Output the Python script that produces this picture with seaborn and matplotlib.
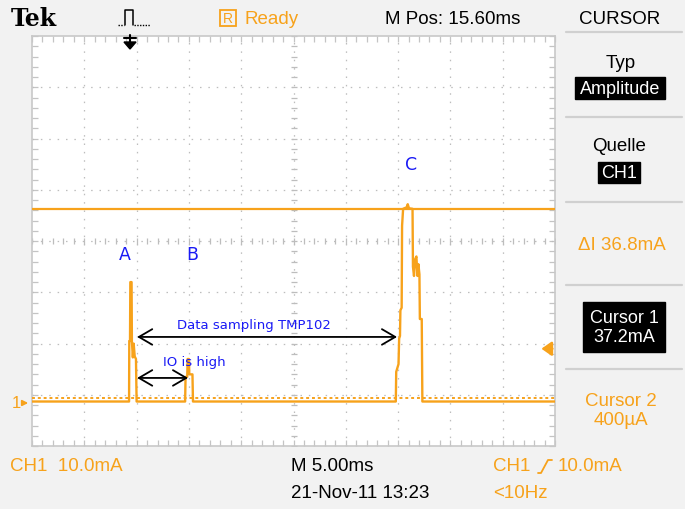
import matplotlib
matplotlib.use("Agg")
import matplotlib.pyplot as plt
import matplotlib.patches as mpatches
from matplotlib.lines import Line2D
from matplotlib.ticker import FixedLocator
import pandas as pd
import seaborn as sns

# ---- scope settings ----
ma_per_div = 10.0          # vertical scale, mA/div
ms_per_div = 5.0           # horizontal scale, ms/div
n_hdiv, n_vdiv = 10, 8
t_left = -9.42             # left screen edge, ms relative to trigger
i_bottom = -8.98           # bottom screen edge, mA
cursor1_ma = 37.2
cursor2_ma = 0.4
trigger_level_ma = 10.0

# ---- CH1 current trace (ms, mA) ----
time_ms = [-9.42, -0.14, -0.12, -0.05, -0.02, 0.10, 0.13, 0.22, 0.30, 0.40, 0.52, 0.58,
           5.22, 5.26, 5.42, 5.46, 5.58, 5.62, 5.92, 5.97,
           25.36, 25.40, 25.62, 25.68, 25.76, 25.80, 25.92, 25.96, 26.06, 26.40, 26.50,
           26.62, 26.96, 27.00, 27.10, 27.22, 27.33, 27.43, 27.52, 27.62, 27.66, 27.84,
           27.90, 40.58]
current_ma = [-0.3, -0.3, 11.5, 11.5, 23.0, 23.0, 11.5, 8.3, 11.0, 8.5, 8.0, -0.3,
              -0.3, 4.5, 4.5, 8.0, 8.0, 5.0, 5.0, -0.3,
              -0.3, 5.5, 7.0, 12.0, 12.5, 17.5, 18.0, 34.0, 37.3, 37.6, 38.2,
              37.4, 37.3, 26.0, 24.2, 27.5, 28.0, 24.2, 26.5, 24.5, 15.8, 15.8,
              -0.3, -0.3]

# ---- annotations ----
event_labels = ["A", "B", "C"]
event_label_t = [-0.53, 5.88, 26.8]
event_label_i = [28.5, 28.5, 46.0]
span_texts = ["Data sampling TMP102", "IO is high"]
span_start_t = [0.63, 0.63]
span_end_t = [25.48, 5.50]
span_arrow_i = [12.3, 4.3]
span_text_t = [11.8, 6.1]
span_text_i = [14.7, 7.6]

# ---- readouts ----
top_readouts = ["Ready", "M Pos: 15.60ms", "CURSOR"]
bottom_readouts = ["CH1  10.0mA", "M 5.00ms", "CH1", "10.0mA", "21-Nov-11 13:23", "<10Hz"]
menu_items = ["Typ", "Amplitude", "Quelle", "CH1", "\u0394I 36.8mA",
              "Cursor 1\n37.2mA", "Cursor 2\n400\u00b5A"]

ORANGE = "#F7A21B"
BLUE = "#1A1AF5"
GRID = "#BDBDBD"
BG = "#F2F2F2"
FS = 13.5

sns.set_theme(style="white")
plt.rcParams["font.family"] = ["Liberation Sans", "DejaVu Sans"]

W, H = 685, 510
fig = plt.figure(figsize=(W / 100, H / 100), dpi=100, facecolor=BG)


def fx(x):
    return x / W


def fy(y):
    return 1 - y / H


def fig_line(xs, ys, **kw):
    fig.add_artist(Line2D([fx(v) for v in xs], [fy(v) for v in ys],
                          transform=fig.transFigure, **kw))


ax = fig.add_axes([fx(32), fy(447), (555 - 32) / W, (447 - 37) / H])
ax.set_facecolor("white")
t_right = t_left + n_hdiv * ms_per_div
i_top = i_bottom + n_vdiv * ma_per_div
ax.set_xlim(t_left, t_right)
ax.set_ylim(i_bottom, i_top)

# graticule
xmaj = [t_left + k * ms_per_div for k in range(n_hdiv + 1)]
ymaj = [i_bottom + k * ma_per_div for k in range(n_vdiv + 1)]
xmin = [t_left + k * ms_per_div / 5 for k in range(n_hdiv * 5 + 1)]
ymin = [i_bottom + k * ma_per_div / 5 for k in range(n_vdiv * 5 + 1)]
for xv in xmaj[1:-1]:
    ax.axvline(xv, color=GRID, lw=0.9, ls=(0, (1.2, 5.5)), zorder=1)
for yv in ymaj[1:-1]:
    ax.axhline(yv, color=GRID, lw=0.9, ls=(0, (1.2, 5.5)), zorder=1)
xc = t_left + n_hdiv / 2 * ms_per_div
yc = i_bottom + n_vdiv / 2 * ma_per_div
ax.plot(xmin, [yc] * len(xmin), ls="none", marker="|", ms=4, mew=0.9, color=GRID, zorder=1)
ax.plot([xc] * len(ymin), ymin, ls="none", marker="_", ms=4, mew=0.9, color=GRID, zorder=1)
ax.xaxis.set_major_locator(FixedLocator(xmin))
ax.yaxis.set_major_locator(FixedLocator(ymin))
ax.tick_params(direction="in", length=4, width=0.9, color="#C4C4C4",
               top=True, right=True, bottom=True, left=True,
               labelbottom=False, labelleft=False)
for s in ax.spines.values():
    s.set_color("#C8C8C8")
    s.set_linewidth(1.2)

# cursors
ax.axhline(cursor1_ma, color=ORANGE, lw=1.6, zorder=3)
ax.axhline(cursor2_ma, color=ORANGE, lw=1.4, ls=(0, (1.5, 1.5)), zorder=3)

# trace
trace = pd.DataFrame({"t": time_ms, "i": current_ma})
sns.lineplot(data=trace, x="t", y="i", ax=ax, color=ORANGE, lw=1.7,
             zorder=4, estimator=None, sort=False)
ax.set_xlabel("")
ax.set_ylabel("")

# trigger level marker
ax.annotate("", xy=(t_right - 1.3, trigger_level_ma), xytext=(t_right - 0.25, trigger_level_ma),
            arrowprops=dict(arrowstyle="-|>,head_length=0.5,head_width=0.35", color=ORANGE,
                            lw=1.8, mutation_scale=12, shrinkA=0, shrinkB=0),
            zorder=5, annotation_clip=False)

# annotations
for lab, tx, iy in zip(event_labels, event_label_t, event_label_i):
    ax.text(tx, iy, lab, color=BLUE, fontsize=12.5, ha="center", va="center",
            family=["DejaVu Sans"], zorder=6)
for txt, t0, t1, ia, tt, it in zip(span_texts, span_start_t, span_end_t, span_arrow_i,
                                   span_text_t, span_text_i):
    ax.annotate("", xy=(t0, ia), xytext=(t1, ia),
                arrowprops=dict(arrowstyle="<->,head_length=0.6,head_width=0.35",
                                color="black", lw=1.3, mutation_scale=16,
                                shrinkA=0, shrinkB=0),
                zorder=6)
    ax.text(tt, it, txt, color=BLUE, fontsize=9.5, ha="center", va="center",
            family=["DejaVu Sans"], zorder=6)

# ground marker
fig.text(fx(16), fy(404), "1", color=ORANGE, fontsize=12, ha="center", va="center")
fig.add_artist(mpatches.FancyArrowPatch((fx(21), fy(404)), (fx(31), fy(404)),
                                        transform=fig.transFigure, arrowstyle="-|>",
                                        mutation_scale=8, color=ORANGE, lw=1.3))

# trigger position marker
fig_line([130, 130], [36, 44], color="black", lw=1.5)
fig_line([124, 136], [39, 39], color="black", lw=1.5)
fig.add_artist(mpatches.Polygon([[fx(124), fy(43)], [fx(136), fy(43)], [fx(130), fy(50)]],
                                closed=True, transform=fig.transFigure, color="black"))

# header
fig.text(fx(11), fy(19), "Tek", fontsize=17, fontweight="bold", family=["DejaVu Serif"],
         ha="left", va="center", color="black")
fig_line([125, 125, 133, 133], [26, 11, 11, 26], color="black", lw=1.1)
fig_line([118, 124], [26, 26], color="black", lw=1.0, ls=(0, (1, 1)))
fig_line([134, 150], [26, 26], color="black", lw=1.0, ls=(0, (1, 1)))
fig.add_artist(mpatches.Rectangle((fx(220), fy(27)), 16 / W, 16 / H, transform=fig.transFigure,
                                  fill=False, edgecolor=ORANGE, lw=1.3))
fig.text(fx(228), fy(19), "R", color=ORANGE, fontsize=10, ha="center", va="center")
fig.text(fx(244), fy(19), top_readouts[0], color=ORANGE, fontsize=FS, ha="left", va="center")
fig.text(fx(385), fy(19), top_readouts[1], color="black", fontsize=FS, ha="left", va="center")
fig.text(fx(620), fy(19), top_readouts[2], color="black", fontsize=FS, ha="center", va="center")

# footer
fig.text(fx(10), fy(467), bottom_readouts[0], color=ORANGE, fontsize=FS, ha="left", va="center")
fig.text(fx(291), fy(467), bottom_readouts[1], color="black", fontsize=FS, ha="left", va="center")
fig.text(fx(493), fy(467), bottom_readouts[2], color=ORANGE, fontsize=FS, ha="left", va="center")
fig_line([538, 541, 548, 552], [474, 474, 461, 461], color=ORANGE, lw=1.3)
fig.text(fx(558), fy(467), bottom_readouts[3], color=ORANGE, fontsize=FS, ha="left", va="center")
fig.text(fx(291), fy(494), bottom_readouts[4], color="black", fontsize=FS, ha="left", va="center")
fig.text(fx(493), fy(494), bottom_readouts[5], color=ORANGE, fontsize=FS, ha="left", va="center")

# side menu
for yy in [33, 118, 203, 286, 370]:
    fig_line([566, 682], [yy, yy], color="#D0D0D0", lw=1.6)


def boxed(x, y, txt, w, h):
    fig.add_artist(mpatches.Rectangle((fx(x - w / 2), fy(y + h / 2)), w / W, h / H,
                                      transform=fig.transFigure, color="black"))
    fig.text(fx(x), fy(y), txt, color="white", fontsize=13, ha="center", va="center",
             linespacing=1.1)


fig.text(fx(621), fy(64), menu_items[0], color="black", fontsize=FS, ha="center", va="center")
boxed(620, 89, menu_items[1], 90, 22)
fig.text(fx(619), fy(147), menu_items[2], color="black", fontsize=FS, ha="center", va="center")
boxed(619, 173, menu_items[3], 42, 21)
fig.text(fx(622), fy(245), menu_items[4], color=ORANGE, fontsize=FS, ha="center", va="center")
boxed(624, 328, menu_items[5], 82, 50)
fig.text(fx(621), fy(411), menu_items[6], color=ORANGE, fontsize=FS, ha="center", va="center",
         linespacing=1.1)

fig.savefig("out.png", dpi=100, facecolor=BG)
